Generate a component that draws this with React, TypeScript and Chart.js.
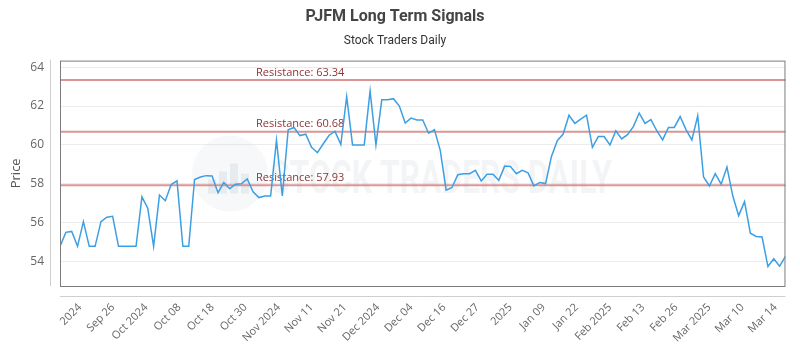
import React, { useEffect, useRef } from "react";
import { Chart, registerables } from "chart.js";

Chart.register(...registerables);

const prices: number[] = [
  54.78, 55.5, 55.55, 54.78, 56.05, 54.78, 54.78, 56.05, 56.28, 56.33,
  54.78, 54.78, 54.78, 54.78, 57.33, 56.74, 54.78, 57.42, 57.13, 57.96,
  58.15, 54.78, 54.78, 58.22, 58.35, 58.42, 58.4, 57.54, 58.07, 57.74,
  57.98, 58.0, 58.25, 57.59, 57.29, 57.37, 57.37, 60.24, 57.37, 60.78,
  60.9, 60.48, 60.55, 59.88, 59.6, 60.06, 60.5, 60.7, 60.02, 62.48,
  60.0, 60.0, 60.0, 62.78, 60.0, 62.32, 62.32, 62.38, 62.0, 61.13,
  61.38, 61.28, 61.28, 60.6, 60.79, 59.71, 57.67, 57.81, 58.47, 58.52,
  58.52, 58.69, 58.15, 58.49, 58.49, 58.18, 58.91, 58.89, 58.52, 58.69,
  58.56, 57.89, 58.07, 58.01, 59.41, 60.22, 60.56, 61.53, 61.11, 61.33,
  61.53, 59.88, 60.43, 60.43, 60.0, 60.73, 60.31, 60.53, 60.94, 61.64,
  61.11, 61.3, 60.73, 60.26, 60.9, 60.9, 61.46, 60.79, 60.26, 61.5,
  58.35, 57.89, 58.52, 57.98, 58.86, 57.37, 56.36, 57.08, 55.46, 55.29,
  55.26, 53.74, 54.14, 53.76, 54.27,
];

const resistanceLevels: number[] = [63.34, 60.68, 57.93];

const tickLabels: string[] = [
  "2024", "Sep 26", "Oct 2024", "Oct 08", "Oct 18", "Oct 30", "Nov 2024",
  "Nov 11", "Nov 21", "Dec 2024", "Dec 04", "Dec 16", "Dec 27", "2025",
  "Jan 09", "Jan 22", "Feb 2025", "Feb 13", "Feb 26", "Mar 2025", "Mar 10",
  "Mar 14",
];

const TITLE = "PJFM Long Term Signals";
const SUBTITLE = "Stock Traders Daily";
const FONT = "'Open Sans', sans-serif";

const FIRST_TICK = 3.4;
const LAST_TICK = 122.3;

const decorPlugin = {
  id: "decor",
  beforeDatasetsDraw(chart: any) {
    const { ctx, chartArea: a, scales } = chart;
    const y = scales.y;
    ctx.save();
    // watermark
    const cx = a.left + 170;
    const cy = a.top + 113;
    ctx.globalAlpha = 0.1;
    ctx.fillStyle = "#a8bccf";
    ctx.beginPath();
    ctx.arc(cx, cy, 38, 0, Math.PI * 2);
    ctx.fill();
    ctx.globalAlpha = 0.14;
    ctx.fillStyle = "#8a9aab";
    const bars = [14, 22, 30, 20];
    bars.forEach((h, i) => {
      ctx.fillRect(cx - 22 + i * 11, cy + 20 - h, 8, h);
    });
    ctx.globalAlpha = 0.13;
    ctx.fillStyle = "#9aabbb";
    ctx.font = "bold 46px 'Roboto', sans-serif";
    ctx.textBaseline = "middle";
    ctx.textAlign = "left";
    const txt = "STOCK TRADERS DAILY";
    const w = ctx.measureText(txt).width;
    ctx.translate(a.left + 210, cy + 8);
    ctx.scale(342 / w, 1);
    ctx.fillText(txt, 0, 0);
    ctx.restore();

    ctx.save();
    // resistance lines
    resistanceLevels.forEach((lv) => {
      const py = y.getPixelForValue(lv);
      ctx.strokeStyle = "rgba(214,130,130,0.85)";
      ctx.lineWidth = 2;
      ctx.beginPath();
      ctx.moveTo(a.left, py);
      ctx.lineTo(a.right, py);
      ctx.stroke();
      ctx.fillStyle = "#8e3434";
      ctx.font = "11px " + FONT;
      ctx.textAlign = "left";
      ctx.textBaseline = "bottom";
      ctx.fillText("Resistance: " + lv.toFixed(2), a.left + 196, py - 2);
    });
    ctx.restore();
  },
  afterDraw(chart: any) {
    const { ctx, chartArea: a } = chart;
    ctx.save();
    ctx.strokeStyle = "#7d7d7d";
    ctx.lineWidth = 1;
    ctx.strokeRect(a.left + 0.5, a.top + 0.5, a.right - a.left - 1, a.bottom - a.top);
    ctx.strokeStyle = "#cfcfcf";
    ctx.beginPath();
    ctx.moveTo(a.left - 9.5, a.top - 1);
    ctx.lineTo(a.left - 9.5, a.bottom);
    ctx.moveTo(a.left, a.bottom + 10.5);
    ctx.lineTo(a.right, a.bottom + 10.5);
    ctx.stroke();
    ctx.restore();
  },
};

export default function App() {
  const ref = useRef<HTMLCanvasElement>(null);
  useEffect(() => {
    if (!ref.current) return;
    const yMin = Math.min(...prices) - 1;
    const yMax = Math.max(...prices, ...resistanceLevels) + 1;
    const step = (LAST_TICK - FIRST_TICK) / (tickLabels.length - 1);
    const chart = new Chart(ref.current, {
      type: "line",
      data: {
        datasets: [
          {
            data: prices.map((v, i) => ({ x: i, y: v })),
            borderColor: "#3d9fe3",
            borderWidth: 1.5,
            pointRadius: 0,
            tension: 0,
            fill: false,
          },
        ],
      },
      options: {
        responsive: false,
        animation: false,
        layout: { padding: { left: 0, right: 10, top: 0, bottom: 0 } },
        plugins: {
          legend: { display: false },
          tooltip: { enabled: false },
          title: {
            display: true,
            text: TITLE,
            color: "#444",
            font: { family: "'Roboto', sans-serif", size: 16, weight: "bold" },
            padding: { top: 7, bottom: 4 },
          },
          subtitle: {
            display: true,
            text: SUBTITLE,
            color: "#333",
            font: { family: "'Roboto', sans-serif", size: 12 },
            padding: { top: 4, bottom: 12 },
          },
        },
        scales: {
          x: {
            type: "linear",
            min: 0,
            max: prices.length - 1,
            grid: { display: false, drawTicks: false },
            border: { display: false },
            afterBuildTicks: (scale: any) => {
              scale.ticks = tickLabels.map((_, i) => ({ value: FIRST_TICK + i * step }));
            },
            afterFit: (scale: any) => {
              scale.height = 64;
            },
            ticks: {
              autoSkip: false,
              minRotation: 45,
              maxRotation: 45,
              padding: 15,
              color: "#666",
              font: { family: FONT, size: 11 },
              callback: (_v: any, i: number) => tickLabels[i],
            },
          },
          y: {
            min: yMin,
            max: yMax,
            grid: { color: "#ececec", drawTicks: false },
            border: { display: false },
            afterFit: (scale: any) => {
              scale.width = 60;
            },
            ticks: {
              stepSize: 2,
              includeBounds: false,
              padding: 16,
              color: "#666",
              font: { family: FONT, size: 12 },
            },
            title: {
              display: true,
              text: "Price",
              color: "#555",
              font: { family: FONT, size: 13 },
              padding: { top: 8, bottom: 0 },
            },
          },
        },
      },
      plugins: [decorPlugin],
    } as any);
    return () => chart.destroy();
  }, []);
  return (
    <div style={{ position: "fixed", left: 0, top: 0, width: 800, height: 350, background: "#fff" }}>
      <canvas ref={ref} width={800} height={350} />
    </div>
  );
}
